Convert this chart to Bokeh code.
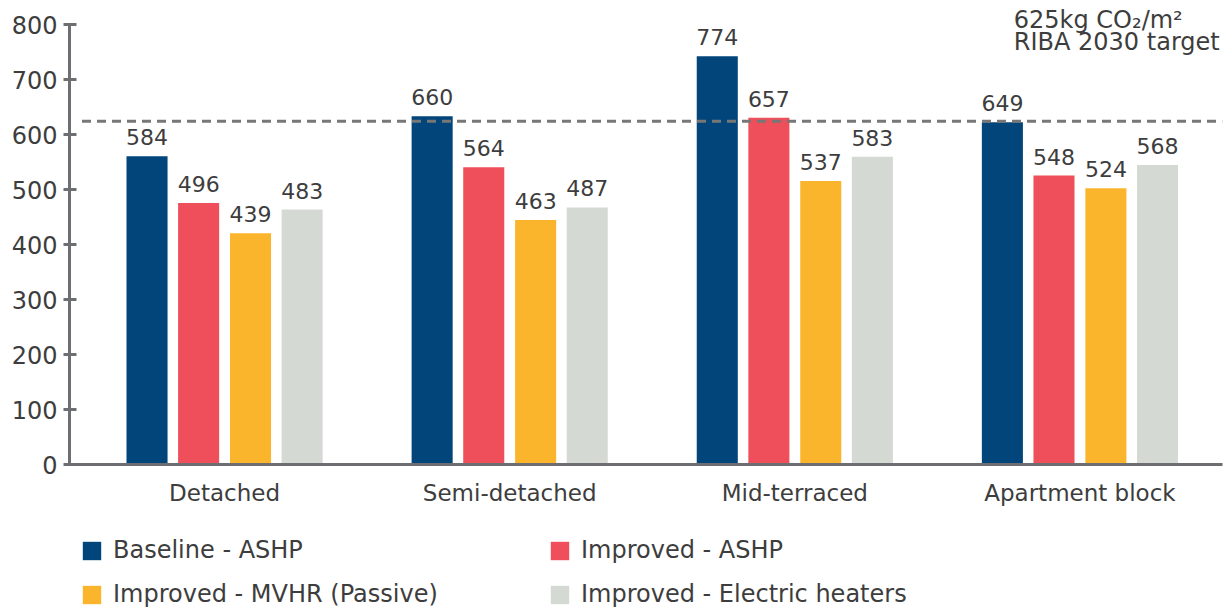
from bokeh.plotting import figure
from bokeh.layouts import column
from bokeh.models import Range1d, FixedTicker, Legend, LegendItem, Label, ColumnDataSource
from bokeh.embed import file_html
from bokeh.resources import INLINE
from bokeh.core.properties import value

categories = ["Detached", "Semi-detached", "Mid-terraced", "Apartment block"]
series = ["Baseline - ASHP", "Improved - ASHP", "Improved - MVHR (Passive)", "Improved - Electric heaters"]
colors = ["#02457A", "#EF4F5A", "#FBB52D", "#D5D9D3"]
# bar heights as drawn
baseline_ashp = [561, 634, 743, 623]
improved_ashp = [476, 541, 631, 526]
improved_mvhr = [421, 445, 516, 503]
improved_elec = [464, 468, 560, 545]
# printed labels
lbl_baseline_ashp = ["584", "660", "774", "649"]
lbl_improved_ashp = ["496", "564", "657", "548"]
lbl_improved_mvhr = ["439", "463", "537", "524"]
lbl_improved_elec = ["483", "487", "583", "568"]
target = 625
y_ticks = [0, 100, 200, 300, 400, 500, 600, 700, 800]

FONT = "DejaVu Sans"
TXT = "#3d3d3d"
AX = "#6d6e71"

p = figure(width=1228, height=510, output_backend="svg", toolbar_location=None,
           x_range=Range1d(-0.0439, 4.0), y_range=Range1d(0, 830),
           min_border_left=69, min_border_right=6, min_border_top=8, min_border_bottom=46)
p.outline_line_color = None
p.xgrid.visible = False
p.ygrid.visible = False

vals = [baseline_ashp, improved_ashp, improved_mvhr, improved_elec]
lbls = [lbl_baseline_ashp, lbl_improved_ashp, lbl_improved_mvhr, lbl_improved_elec]
offsets = [-0.272, -0.091, 0.091, 0.272]

# legend figure (same series, same colours; its bars lie outside its visible range)
p2 = figure(width=1228, height=100, output_backend="svg", toolbar_location=None,
            x_range=Range1d(100, 101), y_range=Range1d(5000, 5001),
            min_border_left=69, min_border_right=6, min_border_top=0, min_border_bottom=0)
p2.outline_line_color = None
p2.axis.visible = False
p2.grid.visible = False

items = []
for s, v, lb, off, c in zip(series, vals, lbls, offsets, colors):
    xs = [i + 0.5 + off for i in range(len(categories))]
    src = ColumnDataSource(dict(x=xs, top=v, lab=lb))
    p.vbar(x="x", top="top", width=0.144, source=src, fill_color=c, line_color=None)
    p.text(x="x", y="top", text="lab", source=src, text_align="center", text_baseline="alphabetic",
           y_offset=-19, text_font=value(FONT), text_font_size="22px", text_color=TXT)
    r2 = p2.vbar(x="x", top="top", width=0.144, source=src, fill_color=c, line_color=None)
    items.append(LegendItem(label=s, renderers=[r2]))

p.line(x=[0, len(categories)], y=[target, target], line_color="#777777", line_width=3, line_dash="9 6")

p.add_layout(Label(x=3.268, y=809, text="625kg CO\u2082/m\u00b2", text_font=FONT, text_font_size="24px",
                   text_color=TXT, text_baseline="alphabetic"))
p.add_layout(Label(x=3.268, y=769, text="RIBA 2030 target", text_font=FONT, text_font_size="24px",
                   text_color=TXT, text_baseline="alphabetic"))

# axes
ya = p.yaxis[0]
ya.ticker = FixedTicker(ticks=y_ticks)
ya.bounds = (0, 800)
ya.axis_line_color = AX
ya.axis_line_width = 3
ya.major_tick_line_color = AX
ya.major_tick_line_width = 3
ya.major_tick_in = 7
ya.major_tick_out = 6
ya.minor_tick_line_color = None
ya.major_label_standoff = 6
ya.major_label_text_font = FONT
ya.major_label_text_font_size = "24px"
ya.major_label_text_color = TXT

xa = p.xaxis[0]
xa.ticker = FixedTicker(ticks=[i + 0.5 for i in range(len(categories))])
xa.major_label_overrides = {i + 0.5: c for i, c in enumerate(categories)}
xa.axis_line_color = AX
xa.axis_line_width = 3
xa.major_tick_line_color = None
xa.major_tick_in = 0
xa.major_tick_out = 0
xa.minor_tick_line_color = None
xa.major_label_standoff = 15
xa.major_label_text_font = FONT
xa.major_label_text_font_size = "23px"
xa.major_label_text_color = TXT

# column-major order for a 2-column legend
order = [0, 2, 1, 3]
legend = Legend(items=[items[i] for i in order], ncols=2, location=(11, 2))
legend.border_line_color = None
legend.background_fill_alpha = 0
legend.glyph_width = 23
legend.glyph_height = 23
legend.label_standoff = 10
legend.label_width = 419
legend.label_height = 28
legend.spacing = 16
legend.padding = 0
legend.margin = 0
legend.label_text_font = FONT
legend.label_text_font_size = "24px"
legend.label_text_color = TXT
p2.add_layout(legend, "center")

layout = column(p, p2, spacing=0)
open("out.html", "w").write(file_html(layout, INLINE))
